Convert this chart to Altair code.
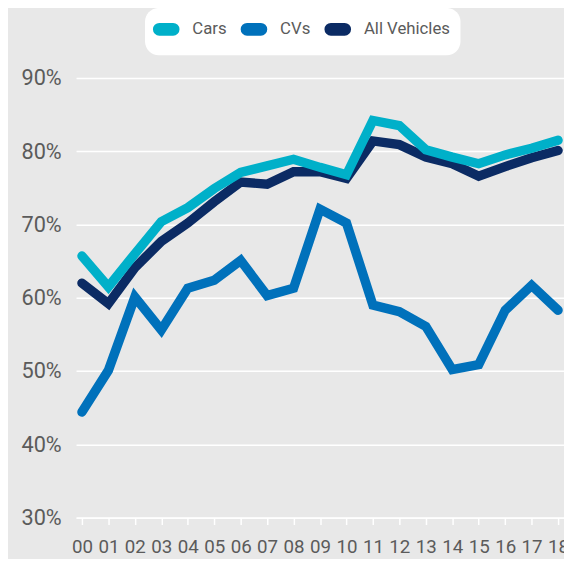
import altair as alt
import pandas as pd

years = ["00", "01", "02", "03", "04", "05", "06", "07", "08", "09",
         "10", "11", "12", "13", "14", "15", "16", "17", "18"]
cars = [65.7, 61.5, 66.0, 70.4, 72.3, 74.9, 77.1, 78.0, 78.9, 77.8,
        76.8, 84.2, 83.5, 80.2, 79.2, 78.3, 79.5, 80.4, 81.5]
cvs = [44.4, 50.1, 60.1, 55.6, 61.3, 62.4, 65.1, 60.3, 61.3, 72.1,
       70.2, 59.0, 58.1, 56.1, 50.2, 50.9, 58.3, 61.7, 58.3]
all_vehicles = [62.0, 59.2, 64.1, 67.7, 70.2, 73.1, 75.8, 75.5, 77.2, 77.2,
                76.3, 81.4, 80.9, 79.2, 78.3, 76.6, 77.9, 79.1, 80.1]

series_names = ["Cars", "CVs", "All Vehicles"]
series_colors = ["#00b0c9", "#0071bb", "#0b2b64"]
y_ticks = [30, 40, 50, 60, 70, 80, 90]

rows = []
for name, vals in zip(series_names, [cars, cvs, all_vehicles]):
    for yr, v in zip(years, vals):
        rows.append({"year": yr, "value": v, "series": name})
df = pd.DataFrame(rows)

FONT = "Roboto"
TXT = "#5b5b5b"

pill = ("M-0.875,-0.406L0.875,-0.406A0.406,0.406,0,0,1,0.875,0.406"
        "L-0.875,0.406A0.406,0.406,0,0,1,-0.875,-0.406Z")

color = alt.Color(
    "series:N",
    scale=alt.Scale(domain=series_names, range=series_colors),
    legend=alt.Legend(
        title=None,
        orient="none",
        legendX=70,
        legendY=-71,
        direction="horizontal",
        symbolType=pill,
        symbolSize=256,
        symbolStrokeWidth=6.5,
        symbolFillColor="transparent",
        labelFont=FONT,
        labelFontSize=17,
        labelColor=TXT,
        labelOffset=15,
        columnPadding=4,
        padding=10,
        fillColor="white",
        cornerRadius=14,
    ),
)

x = alt.X(
    "year:O",
    sort=years,
    scale=alt.Scale(type="point", padding=0.224),
    axis=alt.Axis(
        title=None, labelAngle=0, labelFont=FONT, labelFontSize=19,
        labelColor=TXT, ticks=True, tickColor="white", tickSize=7,
        tickWidth=1.5, domain=True, domainColor="white", domainWidth=1.5,
        labelPadding=13, grid=False,
    ),
)
y = alt.Y(
    "value:Q",
    scale=alt.Scale(domain=[30, 90], nice=False, zero=False),
    axis=alt.Axis(
        title=None, values=y_ticks, labelExpr="datum.value + '%'",
        labelFont=FONT, labelFontSize=22, labelColor=TXT, ticks=False,
        domain=False, grid=True, gridColor="white", gridWidth=1.5,
        labelPadding=15,
    ),
)

layers = []
for name in ["All Vehicles", "CVs", "Cars"]:
    layers.append(
        alt.Chart(df)
        .transform_filter(alt.datum.series == name)
        .mark_line(strokeWidth=9.5, strokeCap="round", strokeJoin="miter")
        .encode(x=x, y=y, color=color)
    )

chart = (
    alt.layer(*layers)
    .properties(
        width=495,
        height=446,
        autosize=alt.AutoSizeParams(type="none"),
        padding={"left": 69, "top": 67, "right": 0, "bottom": 38},
        background="#e8e8e8",
    )
    .configure_view(stroke=None)
)

chart.save("out.html", embed_options={"renderer": "svg", "actions": False})
